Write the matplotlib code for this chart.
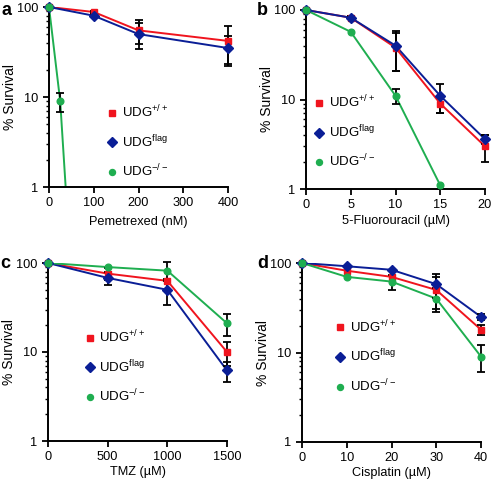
import numpy as np
import matplotlib
matplotlib.use("Agg")
from matplotlib import pyplot as plt
from matplotlib.ticker import LogLocator, NullFormatter, FixedLocator

plt.rcParams['font.family'] = ['Liberation Sans', 'DejaVu Sans']
plt.rcParams['mathtext.fontset'] = 'custom'
plt.rcParams['mathtext.rm'] = 'Liberation Sans'
plt.rcParams['mathtext.it'] = 'Liberation Sans:italic'

# ---- data ----
labels = ['UDG$^{\\mathrm{+/+}}$', 'UDG$^{\\mathrm{flag}}$', 'UDG$^{\\mathrm{-/-}}$']

# a: Pemetrexed
pem_x = [0, 100, 200, 400]
pem_wt = [100, 88, 55, 42]
pem_wt_err = [0, 3, 16, 19]
pem_flag = [100, 80, 50, 35]
pem_flag_err = [0, 3, 16, 13]
pem_ko_x = [0, 25, 50]
pem_ko = [100, 9, 0.1]
pem_ko_err = [0, 2.2, 0]

# b: 5-Fluorouracil
fu_x = [0, 5, 10, 15, 20]
fu_wt = [100, 82, 38, 9, 3]
fu_wt_err = [0, 3, 17, 2, 1]
fu_flag = [100, 82, 40, 11, 3.6]
fu_flag_err = [0, 3, 19, 4, 0.4]
fu_ko_x = [0, 5, 10, 15]
fu_ko = [100, 57, 11, 1.1]
fu_ko_err = [0, 0, 2.2, 0]

# c: TMZ
tmz_x = [0, 500, 1000, 1500]
tmz_wt = [100, 76, 63, 10]
tmz_wt_err = [0, 11, 0, 3]
tmz_flag = [100, 68, 50, 6.2]
tmz_flag_err = [0, 11, 16, 1.6]
tmz_ko = [100, 90, 82, 21]
tmz_ko_err = [0, 0, 20, 6]

# d: Cisplatin
cis_x = [0, 10, 20, 30, 40]
cis_wt = [100, 82, 70, 50, 18]
cis_wt_err = [0, 0, 0, 19, 2.5]
cis_flag = [100, 92, 84, 58, 25]
cis_flag_err = [0, 0, 0, 17, 2]
cis_ko = [100, 70, 62, 40, 9]
cis_ko_err = [0, 0, 12, 12, 3]

RED = '#f0141e'
BLUE = '#0a1e96'
GREEN = '#1fae50'

W, H = 493, 483
fig = plt.figure(figsize=(W / 100, H / 100), dpi=100)


def make_ax(left, right, top, bottom):
    return fig.add_axes([left / W, 1 - bottom / H, (right - left) / W, (bottom - top) / H])


def draw(ax, series, xlim, xticks, xlabel, xlab_y, leg_xy):
    styles = [(RED, 's', 4.6), (BLUE, 'D', 5.2), (GREEN, 'o', 4.8)]
    handles = []
    for (sx, y, err), (c, m, ms), lab in zip(series, styles, labels):
        sx = np.array(sx, float)
        y = np.array(y, float)
        err = np.array(err, float)
        ax.plot(sx, y, color=c, lw=1.4, zorder=2)
        ok = y >= 1
        eb = ok & (err > 0)
        ax.errorbar(sx[eb], y[eb], yerr=err[eb], fmt='none', ecolor='black',
                    elinewidth=1.3, capsize=3, capthick=1.3, clip_on=False, zorder=3)
        h, = ax.plot(sx[ok], y[ok], ls='none', marker=m, ms=ms, color=c,
                     clip_on=False, zorder=4, label=lab)
        handles.append(h)
    ax.set_yscale('log')
    ax.set_ylim(1, 100)
    ax.set_xlim(*xlim)
    ax.xaxis.set_major_locator(FixedLocator(xticks))
    ax.yaxis.set_major_locator(FixedLocator([1, 10, 100]))
    ax.set_yticklabels(['1', '10', '100'])
    ax.yaxis.set_minor_locator(LogLocator(base=10, subs=np.arange(2, 10)))
    ax.yaxis.set_minor_formatter(NullFormatter())
    for s in ['top', 'right']:
        ax.spines[s].set_visible(False)
    for s in ['left', 'bottom']:
        ax.spines[s].set_linewidth(1.4)
    ax.tick_params(which='major', length=4, width=1.3, labelsize=9.2, pad=3.5)
    ax.tick_params(which='minor', length=2.5, width=1)
    ax.set_ylabel('% Survival', fontsize=10)
    ax.yaxis.set_label_coords(-0.18, 0.5)
    ax.set_xlabel(xlabel, fontsize=9.2)
    ax.xaxis.set_label_coords(0.5, xlab_y)
    ax.legend(handles=handles, loc='upper left', bbox_to_anchor=leg_xy, frameon=False,
              fontsize=9.5, handlelength=0.6, handletextpad=0.45, labelspacing=0.98,
              borderpad=0, borderaxespad=0, numpoints=1, markerscale=0.9)


ax_a = make_ax(49, 228, 7, 187)
draw(ax_a, [(pem_x, pem_wt, pem_wt_err), (pem_x, pem_flag, pem_flag_err),
            (pem_ko_x, pem_ko, pem_ko_err)],
     (0, 400), [0, 100, 200, 300, 400], 'Pemetrexed (nM)', -0.16, (0.33, 0.462))

ax_b = make_ax(306, 485, 10, 189)
draw(ax_b, [(fu_x, fu_wt, fu_wt_err), (fu_x, fu_flag, fu_flag_err),
            (fu_ko_x, fu_ko, fu_ko_err)],
     (0, 20), [0, 5, 10, 15, 20], '5-Fluorouracil (\u00b5M)', -0.145, (0.05, 0.53))

ax_c = make_ax(48, 227, 263, 441)
draw(ax_c, [(tmz_x, tmz_wt, tmz_wt_err), (tmz_x, tmz_flag, tmz_flag_err),
            (tmz_x, tmz_ko, tmz_ko_err)],
     (0, 1500), [0, 500, 1000, 1500], 'TMZ (\u00b5M)', -0.14, (0.21, 0.63))

ax_d = make_ax(302, 481, 263, 442)
draw(ax_d, [(cis_x, cis_wt, cis_wt_err), (cis_x, cis_flag, cis_flag_err),
            (cis_x, cis_ko, cis_ko_err)],
     (0, 40), [0, 10, 20, 30, 40], 'Cisplatin (\u00b5M)', -0.14, (0.19, 0.69))

for letter, px, py in [('a', 1, 15), ('b', 257, 15), ('c', 0, 268), ('d', 257, 268)]:
    fig.text(px / W, 1 - py / H, letter, fontsize=13, fontweight='bold',
             ha='left', va='baseline')

fig.savefig('out.png', dpi=100)
